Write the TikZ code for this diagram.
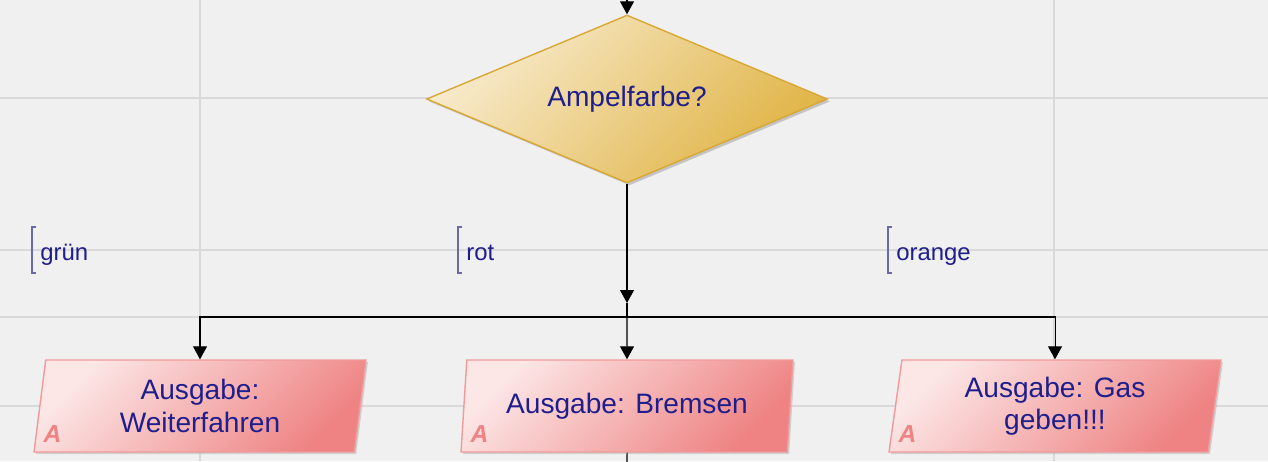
\documentclass[tikz,border=0pt]{standalone}
\usepackage{fontspec}
\setmainfont{Liberation Sans}
\usetikzlibrary{arrows.meta,positioning,shapes.geometric,shadows}
\definecolor{hinter}{HTML}{F0F0F0}
\definecolor{raster}{HTML}{D9D9D9}
\definecolor{schrift}{HTML}{1E1E8C}
\definecolor{goldhell}{HTML}{F8EBCD}
\definecolor{golddunkel}{HTML}{E0B446}
\definecolor{goldrand}{HTML}{D8A835}
\definecolor{rosahell}{HTML}{FCE6E6}
\definecolor{rosadunkel}{HTML}{EF8383}
\definecolor{rosarand}{HTML}{F19A9A}
\definecolor{klammerblau}{HTML}{6A6AA8}

\begin{document}
\begin{tikzpicture}[x=0.02cm, y=-0.02cm,
  raute/.style={shape=diamond, aspect=2.39, draw=goldrand, line width=0.8pt, top color=goldhell,
                bottom color=golddunkel, shading angle=45, minimum width=8.02cm,
                minimum height=3.36cm, inner sep=0pt, text=schrift,
                font=\fontsize{16}{18.5}\selectfont,
                drop shadow={shadow xshift=0.05cm, shadow yshift=-0.05cm, fill=black!40, opacity=0.5}},
  kasten/.style={trapezium, trapezium left angle=77.6, trapezium right angle=102.4,
                 trapezium stretches body, draw=rosarand, line width=0.8pt,
                 top color=rosahell, bottom color=rosadunkel, shading angle=45,
                 minimum width=6.64cm, minimum height=1.84cm, inner sep=0pt,
                 align=center, text=schrift, font=\fontsize{16}{18.5}\selectfont,
                 drop shadow={shadow xshift=0.04cm, shadow yshift=-0.04cm, fill=black!30, opacity=0.5}},
  akz/.style={text=rosadunkel, font=\fontsize{14}{14}\selectfont\bfseries\itshape, inner sep=0pt},
  marke/.style={anchor=base west, inner sep=0pt, text=schrift, font=\fontsize{13.6}{15}\selectfont},
  klammer/.style={draw=klammerblau, line width=0.6pt},
  pfeil/.style={-{Triangle[length=0.26cm,width=0.28cm]}, line width=0.6pt, black},
  linie/.style={line width=0.6pt, black}]
\useasboundingbox (0,0) rectangle (1268,461);
\fill[hinter] (0,0) rectangle (1268,461);
\clip (0,0) rectangle (1268,461);
% raster
\foreach \gx in {200,1054}
  \draw[raster, line width=0.8pt] (\gx,0) -- (\gx,461);
\foreach \gy in {98,250,317,406}
  \draw[raster, line width=0.8pt] (0,\gy) -- (1268,\gy);

\coordinate (oben) at (627,-5);
\node[raute] (frage) at (627,99) {Ampelfarbe?};
\coordinate (mitte) at (627,303);
\coordinate (knoten) at (627,317);
\coordinate (unten) at (627,475);

\node[kasten] (weiter)  at (200,406)  {Ausgabe:\\Weiterfahren};
\node[kasten] (bremsen) at (627,406)  {Ausgabe: Bremsen};
\node[kasten] (gas)     at (1055,406) {Ausgabe: Gas\\geben!!!};
\foreach \k in {weiter,bremsen,gas}
  \node[akz, anchor=south west] (a-\k) at ([xshift=0.2cm,yshift=0.2cm]\k.bottom left corner) {A};

\node[marke] (gruen)  at (40,260)  {grün};
\node[marke] (rot)    at (466,260) {rot};
\node[marke] (orange) at (896,260) {orange};
\foreach \m in {gruen,rot,orange}
  \draw[klammer] ([xshift=-0.08cm,yshift=0.66cm]\m.base west) -- ([xshift=-0.16cm,yshift=0.66cm]\m.base west)
                 -- ([xshift=-0.16cm,yshift=-0.26cm]\m.base west) -- ([xshift=-0.08cm,yshift=-0.26cm]\m.base west);

\draw[pfeil] (oben) -- (frage);
\draw[pfeil] (frage) -- (mitte);
\draw[linie] (mitte) -- (knoten);
\draw[pfeil] (knoten) -| (weiter);
\draw[pfeil] (knoten) -- (bremsen);
\draw[pfeil] (knoten) -| (gas);
\draw[linie] (bremsen) -- (unten);
\end{tikzpicture}
\end{document}
